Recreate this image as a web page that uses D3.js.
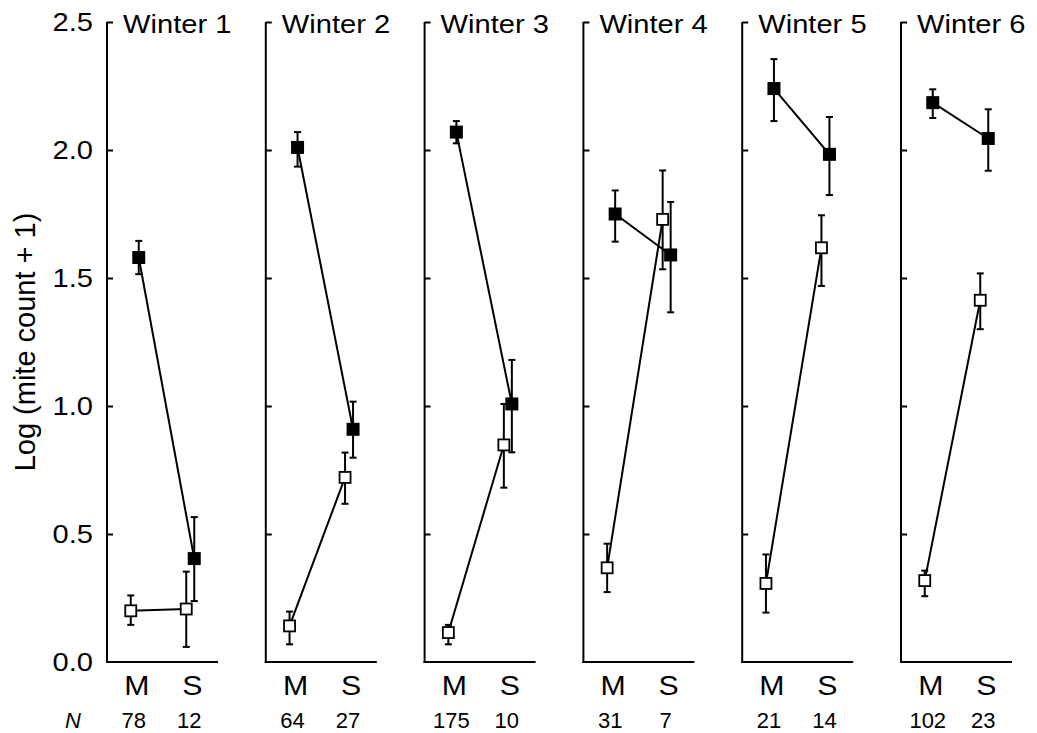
<!DOCTYPE html>
<html>
<head>
<meta charset="utf-8">
<script src="https://cdn.jsdelivr.net/npm/d3@7"></script>
<style>
  body { margin: 0; background: #fff; }
  svg { display: block; }
  text { font-family: "Liberation Sans", Arial, sans-serif; fill: #000; }
</style>
</head>
<body>
<svg id="chart" width="1037" height="733"></svg>
<script>
// ---- data ----
const winters = ["Winter 1", "Winter 2", "Winter 3", "Winter 4", "Winter 5", "Winter 6"];
const categories = ["M", "S"];
const nM = [78, 64, 175, 31, 21, 102];
const nS = [12, 27, 10, 7, 14, 23];
const yTicks = [0, 0.5, 1.0, 1.5, 2.0, 2.5];

// filled squares
const filledMeanM = [1.58, 2.01, 2.07, 1.75, 2.24, 2.185];
const filledLowM  = [1.515, 1.935, 2.026, 1.642, 2.113, 2.125];
const filledHighM = [1.645, 2.07, 2.113, 1.842, 2.355, 2.237];
const filledMeanS = [0.404, 0.909, 1.008, 1.59, 1.983, 2.045];
const filledLowS  = [0.238, 0.798, 0.819, 1.366, 1.824, 1.919];
const filledHighS = [0.566, 1.017, 1.18, 1.797, 2.129, 2.159];
// open squares
const openMeanM = [0.20, 0.141, 0.115, 0.368, 0.307, 0.318];
const openLowM  = [0.145, 0.069, 0.069, 0.273, 0.193, 0.257];
const openHighM = [0.26, 0.197, 0.145, 0.462, 0.42, 0.357];
const openMeanS = [0.207, 0.721, 0.848, 1.729, 1.618, 1.413];
const openLowS  = [0.059, 0.618, 0.681, 1.534, 1.469, 1.30];
const openHighS = [0.353, 0.818, 1.008, 1.92, 1.745, 1.518];

// ---- layout ----
const svg = d3.select("#chart");
const panelW = 111;
const panelX = d3.scaleBand().domain(winters).range([107, 107 + 6 * 158.8]).paddingInner(0).paddingOuter(0);
const y = d3.scaleLinear().domain([0, 2.5]).range([662, 22]);
const x = d3.scalePoint().domain(categories).range([0, panelW]).padding(0.5);
const dodge = { open: -4, filled: 4 };

const series = [
  { key: "open", mean: [openMeanM, openMeanS], low: [openLowM, openLowS], high: [openHighM, openHighS] },
  { key: "filled", mean: [filledMeanM, filledMeanS], low: [filledLowM, filledLowS], high: [filledHighM, filledHighS] }
];

winters.forEach((w, i) => {
  const g = svg.append("g").attr("transform", `translate(${panelX(w)},0)`);

  // y axis line + ticks (inward)
  const yAxis = d3.axisRight(y).tickValues(yTicks.filter(t => t > 0)).tickSize(6).tickFormat("");
  const ga = g.append("g").call(yAxis);
  ga.select(".domain").remove();
  ga.selectAll(".tick line").attr("stroke", "#000").attr("stroke-width", 2);
  g.append("line").attr("x1", 0).attr("x2", 0).attr("y1", y(2.5)).attr("y2", y(0) + 1)
    .attr("stroke", "#000").attr("stroke-width", 2);
  g.append("line").attr("x1", -1).attr("x2", panelW).attr("y1", y(0)).attr("y2", y(0))
    .attr("stroke", "#000").attr("stroke-width", 2);

  // tick labels only on first panel
  if (i === 0) {
    yTicks.forEach(t => {
      g.append("text")
        .attr("transform", `translate(-14,${y(t) + 9}) scale(1.12,1)`)
        .attr("text-anchor", "end")
        .attr("font-size", 26)
        .text(d3.format(".1f")(t));
    });
  }

  // title
  g.append("text")
    .attr("transform", `translate(16,33) scale(1.12,1)`)
    .attr("font-size", 26)
    .text(w);

  // category labels
  categories.forEach(c => {
    g.append("text")
      .attr("transform", `translate(${x(c) + 2},695) scale(1.08,1)`)
      .attr("text-anchor", "middle")
      .attr("font-size", 28)
      .text(c);
  });
  // N labels
  [nM[i], nS[i]].forEach((n, k) => {
    g.append("text")
      .attr("x", x(categories[k]) - 1)
      .attr("y", 728)
      .attr("text-anchor", "middle")
      .attr("font-size", 22)
      .text(n);
  });

  series.forEach(s => {
    const pts = categories.map((c, k) => ({
      x: x(c) + dodge[s.key],
      m: s.mean[k][i], lo: s.low[k][i], hi: s.high[k][i]
    }));
    // connecting line
    g.append("path")
      .attr("d", d3.line().x(d => d.x).y(d => y(d.m))(pts))
      .attr("fill", "none").attr("stroke", "#000").attr("stroke-width", 2);
    // error bars
    pts.forEach(d => {
      g.append("line").attr("x1", d.x).attr("x2", d.x).attr("y1", y(d.lo)).attr("y2", y(d.hi))
        .attr("stroke", "#000").attr("stroke-width", 2);
      [d.lo, d.hi].forEach(v => {
        g.append("line").attr("x1", d.x - 3.5).attr("x2", d.x + 3.5).attr("y1", y(v)).attr("y2", y(v))
          .attr("stroke", "#000").attr("stroke-width", 2);
      });
    });
    // markers
    pts.forEach(d => {
      if (s.key === "filled") {
        g.append("rect").attr("x", d.x - 6.5).attr("y", y(d.m) - 6.5).attr("width", 13).attr("height", 13)
          .attr("fill", "#000");
      } else {
        g.append("rect").attr("x", d.x - 5.5).attr("y", y(d.m) - 5.5).attr("width", 11).attr("height", 11)
          .attr("fill", "#fff").attr("stroke", "#000").attr("stroke-width", 1.8);
      }
    });
  });
});

// N label
svg.append("text").attr("x", 73).attr("y", 728).attr("text-anchor", "middle")
  .attr("font-size", 22).attr("font-style", "italic").text("N");

// y-axis title
svg.append("text")
  .attr("transform", `translate(35,342) rotate(-90)`)
  .attr("text-anchor", "middle")
  .attr("font-size", 29)
  .text("Log (mite count + 1)");
</script>
</body>
</html>
